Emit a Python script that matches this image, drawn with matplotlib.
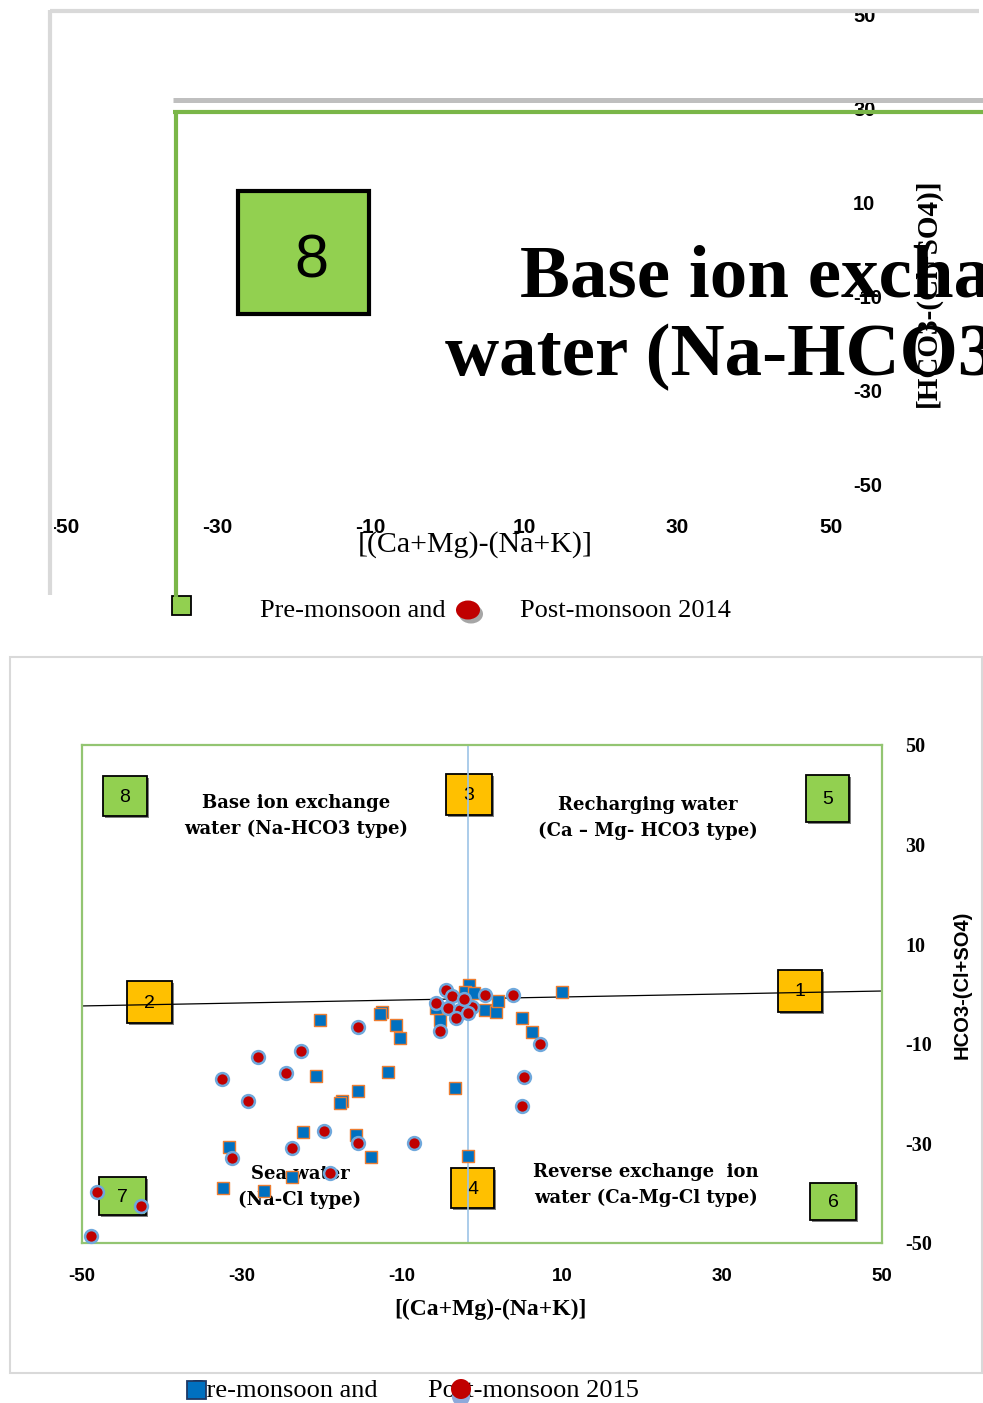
import matplotlib
matplotlib.use("Agg")
import matplotlib.pyplot as plt
from matplotlib.patches import Rectangle, Ellipse, Circle

# ---------------- data ----------------
pre2015_x = [-20.2, -12.5, -12.7, -10.7, -10.25, -20.7, -11.7, -15.5, -17.5, -17.7,
             -3.4, -22.4, -15.7, -31.6, -13.9, -1.7, -23.7, -32.4, -27.25,
             -5.25, -5.7, -1.6, -2.1, -1.0, 0.4, 1.7, 2.0, 5.0, 6.2, 10.0]
pre2015_y = [-5.2, -3.6, -4.0, -6.2, -8.8, -16.5, -15.7, -19.4, -21.4, -21.8,
             -18.9, -27.8, -28.4, -30.7, -32.7, -32.5, -36.7, -38.9, -39.5,
             -5.2, -2.9, 1.8, 0.5, 0.3, -3.2, -3.6, -1.5, -4.9, -7.6, 0.5]

post2015_x = [3.9, 7.2, 5.3, 5.0, -8.5, -5.25, -4.5, -5.7, -3.8, -4.2, -2.75, -3.2,
              -1.3, 0.4, -1.7, -2.2, -15.5, -22.6, -28.0, -32.5, -24.5, -29.3,
              -19.8, -23.7, -15.5, -31.3, -19.0, -48.1, -42.6, -48.9]
post2015_y = [-0.3, -10.1, -16.6, -22.4, -30.0, -7.4, 0.8, -1.8, -0.5, -2.9, -3.3, -4.8,
              -2.6, -0.3, -3.9, -1.0, -6.6, -11.4, -12.7, -17.1, -15.9, -21.4,
              -27.5, -31.0, -29.9, -33.0, -36.0, -39.8, -42.6, -48.5]

x_ticks = [-50, -30, -10, 10, 30, 50]
y_ticks = [50, 30, 10, -10, -30, -50]

# quadrant dividers
hline_x = [-50, 50]
hline_y = [-2.4, 0.6]
vline_x = -1.75

region_numbers = ['8', '3', '5', '2', '1', '7', '4', '6']
region_colors = ['#92D050', '#FFC000', '#92D050', '#FFC000',
                 '#FFC000', '#92D050', '#FFC000', '#92D050']

quadrant_texts = ["Base ion exchange\nwater (Na-HCO3 type)",
                  "Recharging water\n(Ca \u2013 Mg- HCO3 type)",
                  "Sea water\n(Na-Cl type)",
                  "Reverse exchange  ion\nwater (Ca-Mg-Cl type)"]

# ---------------- layout ----------------
W, H = 983, 1403
fig = plt.figure(figsize=(W / 100, H / 100), dpi=100)

ov = fig.add_axes([0, 0, 1, 1], zorder=0)
ov.set_xlim(0, W)
ov.set_ylim(H, 0)
ov.axis('off')

SERIF = 'Liberation Serif'
SANS = 'Liberation Sans'

# ======== TOP PANEL (broken rendering) ========
ov.add_patch(Rectangle((238, 191), 131, 123, facecolor='#92D050',
                       edgecolor='black', lw=3.0, zorder=2))
ov.text(311, 262, '8', fontsize=44, family=SANS, ha='center', va='center', zorder=3)

ov.text(520, 297, 'Base ion exchange', fontsize=54, family=SERIF, weight='bold',
        ha='left', va='baseline', zorder=3)
ov.text(445, 375, 'water (Na-HCO3 type)', fontsize=54, family=SERIF, weight='bold',
        ha='left', va='baseline', zorder=3)

# top legend
ov.add_patch(Rectangle((172, 596), 19, 19, facecolor='#92D050',
                       edgecolor='black', lw=1.3, zorder=4))
ov.text(260, 611, 'Pre-monsoon and', fontsize=19, family=SERIF,
        ha='left', va='center', zorder=3)
ov.add_patch(Ellipse((471, 614), 24, 19, facecolor='#A6A6A6', edgecolor='none', zorder=3))
ov.add_patch(Ellipse((468, 610), 24, 19, facecolor='#C00000', edgecolor='none', zorder=4))
ov.text(520, 611, 'Post-monsoon 2014', fontsize=19, family=SERIF,
        ha='left', va='center', zorder=3)

# top "axes" ticks
tx0, tx1, ty0, ty1 = 64, 831, 15, 485
tax = fig.add_axes([tx0 / W, 1 - ty1 / H, (tx1 - tx0) / W, (ty1 - ty0) / H], zorder=1)
tax.set_facecolor('none')
tax.set_xlim(-50, 50)
tax.set_ylim(-50, 50)
for s in tax.spines.values():
    s.set_visible(False)
tax.set_xticks(x_ticks)
tax.set_yticks(y_ticks)
tax.yaxis.tick_right()
tax.tick_params(length=0)
tax.tick_params(axis='x', pad=24)
tax.tick_params(axis='y', pad=16)
tax.set_xticklabels([str(v) for v in x_ticks], family=SANS, weight='bold', fontsize=15)
tax.set_yticklabels([str(v) for v in y_ticks], family=SANS, weight='bold', fontsize=14.5)

# masks / frame lines on top
ov2 = fig.add_axes([0, 0, 1, 1], zorder=3)
ov2.set_xlim(0, W)
ov2.set_ylim(H, 0)
ov2.axis('off')
ov2.add_patch(Rectangle((0, 0), W, 13, facecolor='white', edgecolor='none', zorder=1))
ov2.add_patch(Rectangle((0, 0), 54, 600, facecolor='white', edgecolor='none', zorder=1))
ov2.plot([50, 50], [10, 595], color='#D9D9D9', lw=3, solid_capstyle='butt', zorder=2)
ov2.plot([50, 979], [11, 11], color='#D9D9D9', lw=3, solid_capstyle='butt', zorder=2)
ov2.plot([173, 983], [100, 100], color='#BFBFBF', lw=3.6, solid_capstyle='butt', zorder=2)
ov2.plot([173, 983], [112, 112], color='#7AB648', lw=3, solid_capstyle='butt', zorder=2)
ov2.plot([176, 176], [112, 597], color='#7AB648', lw=3, solid_capstyle='butt', zorder=2)
ov2.text(475, 545, '[(Ca+Mg)-(Na+K)]', fontsize=21.5, family=SERIF,
         ha='center', va='center', zorder=3)
ov2.text(928, 293, '[HCO3-(Cl+SO4)]', fontsize=21, family=SERIF, weight='bold',
         rotation=90, ha='center', va='center', zorder=3)

# ======== BOTTOM PANEL ========
ov.add_patch(Rectangle((10, 657), 972, 716, facecolor='white',
                       edgecolor='#D9D9D9', lw=1.5, zorder=1))

box_specs = [(103, 776, 44, 40), (446, 774, 46, 41), (806, 775, 43, 47),
             (127, 981, 45, 42), (778, 970, 44, 42), (99, 1177, 47, 38),
             (451, 1168, 43, 40), (810, 1183, 46, 37)]
for num, col, (bx, by, bw, bh) in zip(region_numbers, region_colors, box_specs):
    ov.add_patch(Rectangle((bx + 1.5, by + 1.5), bw, bh, facecolor='#7F7F7F',
                           edgecolor='none', zorder=2))
    ov.add_patch(Rectangle((bx, by), bw, bh, facecolor=col, edgecolor='black',
                           lw=1.3, zorder=2))
    ov.text(bx + bw / 2, by + bh / 2 + 1, num, fontsize=14, family=SANS,
            ha='center', va='center', zorder=3)

qpos = [(296, 816), (648, 818), (300, 1187), (646, 1185)]
for txt, (qx, qy) in zip(quadrant_texts, qpos):
    ov.text(qx, qy, txt, fontsize=13, family='DejaVu Serif', weight='bold',
            ha='center', va='center', multialignment='center', linespacing=1.5, zorder=3)

# bottom legend
ov.text(192, 1391, 'Pre-monsoon and', fontsize=19, family=SERIF,
        ha='left', va='center', zorder=3)
ov.add_patch(Rectangle((187, 1381), 19, 18, facecolor='#0070C0',
                       edgecolor='#1F3864', lw=1.3, zorder=4))
ov.text(428, 1391, 'Post-monsoon 2015', fontsize=19, family=SERIF,
        ha='left', va='center', zorder=3)
ov.add_patch(Circle((461, 1397), 9, facecolor='#8EA9DB', edgecolor='none', zorder=4))
ov.add_patch(Circle((461, 1389), 10, facecolor='#C00000', edgecolor='none', zorder=5))

# scatter axes
L, R, T, B = 82, 882, 745, 1243
ax = fig.add_axes([L / W, 1 - B / H, (R - L) / W, (B - T) / H], zorder=2)
ax.set_facecolor('none')
ax.set_xlim(-50, 50)
ax.set_ylim(-50, 50)
for s in ax.spines.values():
    s.set_color('#93C572')
    s.set_linewidth(1.6)
ax.set_xticks(x_ticks)
ax.set_yticks(y_ticks)
ax.yaxis.tick_right()
ax.tick_params(length=0)
ax.tick_params(axis='x', pad=18)
ax.tick_params(axis='y', pad=16.5)
ax.set_xticklabels([str(v) for v in x_ticks], family=SANS, weight='bold', fontsize=13.5)
ax.set_yticklabels([str(v) for v in y_ticks], family=SERIF, weight='bold', fontsize=14.5)

ax.axvline(vline_x, color='#9DC3E6', lw=1.2, zorder=1)
ax.plot(hline_x, hline_y, color='black', lw=0.9, zorder=1)

ax.scatter(pre2015_x, pre2015_y, marker='s', s=66, facecolor='#0070C0',
           edgecolor='#ED7D31', linewidths=1.0, zorder=3, clip_on=False)
ax.scatter(post2015_x, post2015_y, marker='o', s=85, facecolor='#C00000',
           edgecolor='#6FA8DC', linewidths=1.8, zorder=4, clip_on=False)

ax.text(0.51, -0.1325, '[(Ca+Mg)-(Na+K)]', transform=ax.transAxes, fontsize=17,
        family=SERIF, weight='bold', ha='center', va='center')
ax.text(1.1, 0.518, 'HCO3-(Cl+SO4)', transform=ax.transAxes, fontsize=14.5,
        family=SANS, weight='bold', rotation=90, ha='center', va='center')

fig.savefig('out.png', dpi=100)
